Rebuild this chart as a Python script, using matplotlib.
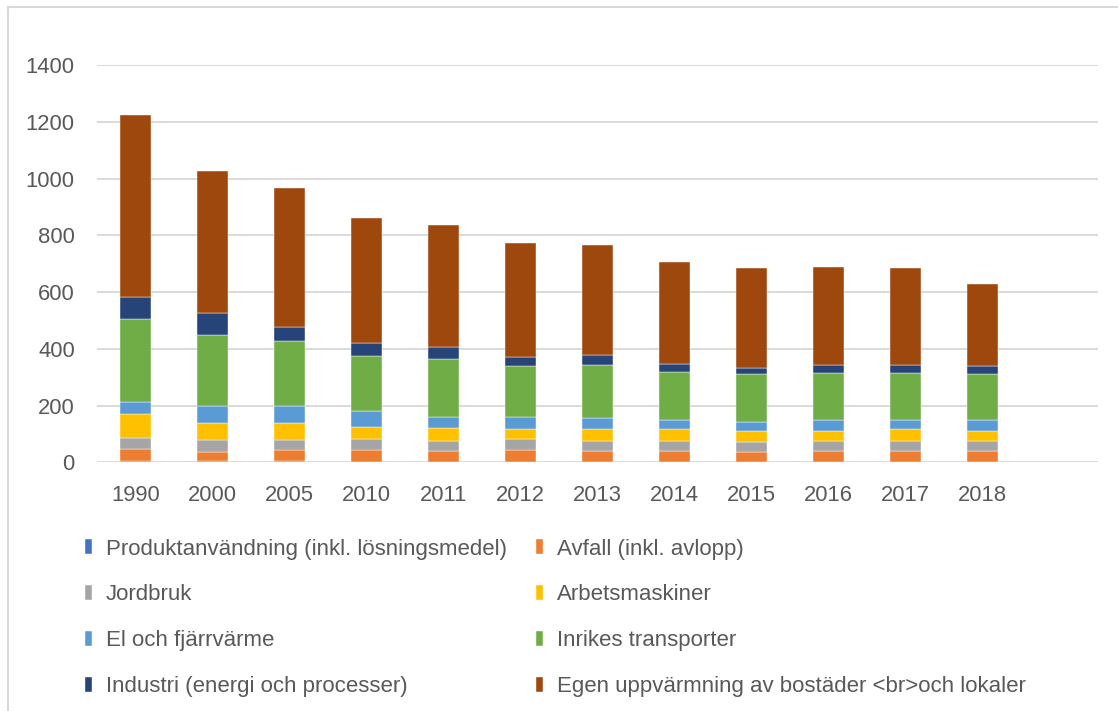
import matplotlib
matplotlib.use("Agg")
import matplotlib.pyplot as plt
from matplotlib.lines import Line2D
import numpy as np

years = ["1990", "2000", "2005", "2010", "2011", "2012", "2013", "2014", "2015", "2016", "2017", "2018"]

produktanvandning = [5, 5, 5, 1, 1, 1, 1, 1, 1, 1, 1, 1]
avfall = [41, 33, 39, 44, 39, 44, 38, 38, 34, 38, 38, 38]
jordbruk = [40, 42, 36, 36, 35, 36, 36, 36, 35, 36, 36, 36]
arbetsmaskiner = [85, 58, 58, 45, 46, 36, 42, 42, 40, 37, 42, 37]
el_fjarrvarme = [41, 59, 62, 55, 40, 44, 39, 31, 33, 36, 31, 36]
inrikes_transporter = [293, 253, 227, 195, 203, 177, 187, 170, 168, 167, 167, 163]
industri = [77, 77, 51, 45, 42, 33, 36, 29, 22, 28, 28, 28]
egen_uppvarmning = [641, 501, 487, 440, 430, 403, 388, 360, 351, 346, 341, 291]

series_names = [
    "Produktanvändning (inkl. lösningsmedel)",
    "Avfall (inkl. avlopp)",
    "Jordbruk",
    "Arbetsmaskiner",
    "El och fjärrvärme",
    "Inrikes transporter",
    "Industri (energi och processer)",
    "Egen uppvärmning av bostäder <br>och lokaler",
]
series_values = [produktanvandning, avfall, jordbruk, arbetsmaskiner,
                 el_fjarrvarme, inrikes_transporter, industri, egen_uppvarmning]
colors = ["#4472C4", "#ED7D31", "#A5A5A5", "#FFC000",
          "#5B9BD5", "#70AD47", "#264478", "#9E480E"]

plt.rcParams["font.family"] = ["Liberation Sans", "DejaVu Sans"]
text_color = "#595959"

W, H = 1118, 711
fig = plt.figure(figsize=(W / 100, H / 100), dpi=100)

# chart frame (left and top edges visible)
fig.add_artist(Line2D([8 / W, 8 / W], [0, 1 - 7 / H], transform=fig.transFigure,
                      color="#D9D9D9", lw=1.5))
fig.add_artist(Line2D([8 / W, 1], [1 - 7 / H, 1 - 7 / H], transform=fig.transFigure,
                      color="#D9D9D9", lw=1.5))

left, right = 97 / W, 1098 / W
bottom, top = 1 - 462.3 / H, 1 - 65 / H
ax = fig.add_axes([left, bottom, right - left, top - bottom])

x = np.arange(len(years))
base = np.zeros(len(years))
handles = []
for name, vals, c in zip(series_names, series_values, colors):
    vals = np.array(vals, dtype=float)
    b = ax.bar(x, vals, bottom=base, width=0.39, color=c, label=name,
               edgecolor="#FFFFFF", linewidth=0.3, zorder=3)
    handles.append(b)
    base += vals

ax.set_xlim(-0.5, len(years) + 0.5)
ax.set_ylim(0, 1400)
ax.set_yticks(np.arange(0, 1401, 200))
ax.set_xticks(x)
ax.set_xticklabels(years)
ax.yaxis.grid(True, color="#D9D9D9", linewidth=1.4, zorder=0)
ax.set_axisbelow(True)
for s in ax.spines.values():
    s.set_visible(False)
ax.tick_params(axis="both", length=0, labelsize=15.8, colors=text_color)
ax.tick_params(axis="y", pad=16)
ax.tick_params(axis="x", pad=16)

col1 = [0, 2, 4, 6]
col2 = [1, 3, 5, 7]
common = dict(frameon=False, fontsize=16, handlelength=0.33, handleheight=0.65,
              handletextpad=0.62, labelspacing=1.12, borderaxespad=0, borderpad=0,
              labelcolor=text_color, loc="upper left")
leg1 = fig.legend([handles[i] for i in col1], [series_names[i] for i in col1],
                  bbox_to_anchor=(85 / W, 1 - 538.5 / H), **common)
leg2 = fig.legend([handles[i] for i in col2], [series_names[i] for i in col2],
                  bbox_to_anchor=(536 / W, 1 - 538.5 / H), **common)

fig.savefig("out.png", dpi=100, facecolor="white")
